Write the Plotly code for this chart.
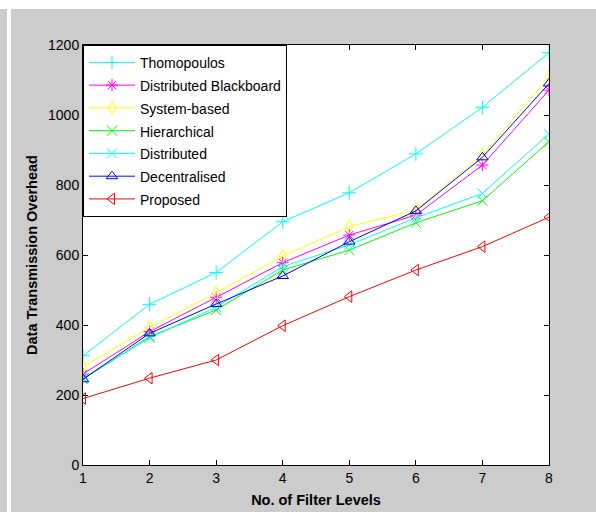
import plotly.graph_objects as go

levels = [1, 2, 3, 4, 5, 6, 7, 8]
thomopoulos = [312, 459, 550, 695, 778, 889, 1022, 1178]
distributed_blackboard = [260, 381, 479, 578, 657, 714, 857, 1071]
system_based = [281, 393, 492, 597, 681, 729, 886, 1109]
hierarchical = [245, 367, 443, 557, 614, 692, 755, 924]
distributed = [248, 363, 451, 567, 629, 706, 776, 946]
decentralised = [245, 376, 460, 540, 638, 726, 879, 1090]
proposed = [190, 248, 300, 398, 481, 557, 624, 708]

series = [
    ("Thomopoulos", thomopoulos, "#00ffff", "cross-thin-open"),
    ("Distributed Blackboard", distributed_blackboard, "#ff00ff", "asterisk-open"),
    ("System-based", system_based, "#ffff00", "diamond-tall-open"),
    ("Hierarchical", hierarchical, "#00ff00", "x-thin-open"),
    ("Distributed", distributed, "#00ffff", "x-thin-open"),
    ("Decentralised", decentralised, "#0000ff", "triangle-up-open"),
    ("Proposed", proposed, "#ff0000", "triangle-left-open"),
]

y_ticks = [0, 200, 400, 600, 800, 1000, 1200]

FONT = "Liberation Sans, Arial, sans-serif"

fig = go.Figure()
for name, vals, color, sym in series:
    fig.add_trace(go.Scatter(
        x=levels, y=vals,
        name="<span style='font-size:14px'>" + name + "</span>",
        mode="lines+markers",
        line=dict(color=color, width=1),
        marker=dict(symbol=sym, size=10, color=color, line=dict(color=color, width=1)),
    ))

W, H = 596, 512
L, R, T, B = 83, 47, 45, 47
pw, ph = W - L - R, H - T - B

def px_x(px):
    return (px - L) / pw

def px_y(py):
    return (H - B - py) / ph

shapes = [
    # white band at the top
    dict(type="rect", xref="paper", yref="paper", x0=px_x(-5), x1=px_x(W + 5),
         y0=px_y(9), y1=px_y(-5), fillcolor="white", line=dict(width=0), layer="below"),
    # white vertical strip at left
    dict(type="rect", xref="paper", yref="paper", x0=px_x(7), x1=px_x(11),
         y0=px_y(H + 5), y1=px_y(-5), fillcolor="white", line=dict(width=0), layer="below"),
]

fig.update_layout(
    width=W, height=H,
    margin=dict(l=L, r=R, t=T, b=B, pad=0, autoexpand=False),
    paper_bgcolor="#cccccc",
    plot_bgcolor="white",
    font=dict(family=FONT, size=14, color="black"),
    showlegend=True,
    legend=dict(
        x=0, y=1, xanchor="left", yanchor="top",
        bgcolor="white", bordercolor="black", borderwidth=1,
        font=dict(family=FONT, size=15.2, color="black"),
        tracegroupgap=0, itemwidth=46,
    ),
    shapes=shapes,
    xaxis=dict(
        range=[1, 8], tickmode="array", tickvals=levels,
        ticks="inside", ticklen=5, tickcolor="black",
        showline=True, linecolor="black", linewidth=1, mirror="ticks",
        showgrid=False, zeroline=False, automargin=False,
        tickfont=dict(family=FONT, size=14),
        title=dict(text="<b>No. of Filter Levels</b>", font=dict(family=FONT, size=14.5), standoff=10),
    ),
    yaxis=dict(
        range=[0, 1200], tickmode="array", tickvals=y_ticks,
        ticks="inside", ticklen=5, tickcolor="black",
        showline=True, linecolor="black", linewidth=1, mirror="ticks",
        showgrid=False, zeroline=False, automargin=False,
        tickfont=dict(family=FONT, size=14),
        title=dict(text="<b>Data Transmission Overhead</b>", font=dict(family=FONT, size=14.5), standoff=6),
    ),
)

fig.write_html("out.html", config={"displayModeBar": False},
               post_script="document.body.style.margin='0';")
